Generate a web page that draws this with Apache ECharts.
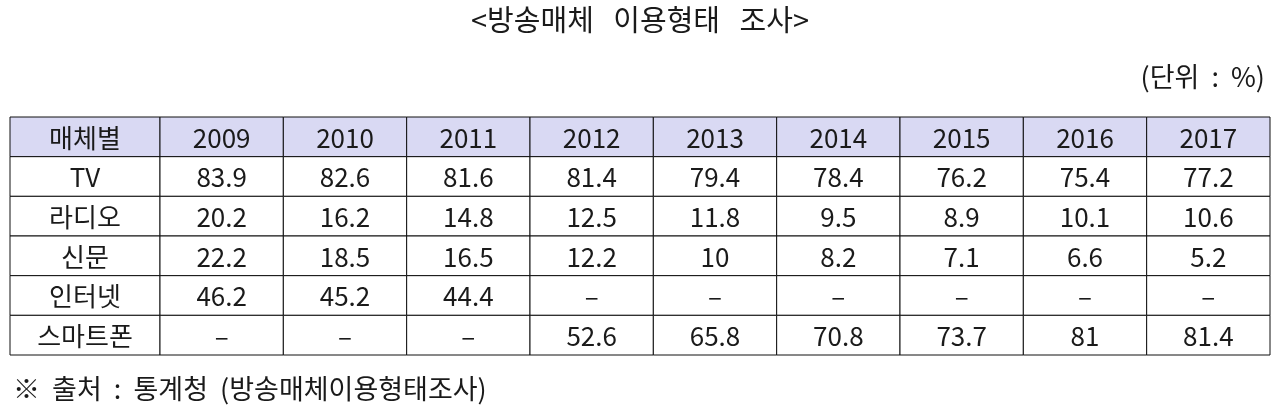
<!DOCTYPE html>
<html><head><meta charset="utf-8">
<script src="https://cdn.jsdelivr.net/npm/echarts@6/dist/echarts.min.js"></script>
<style>html,body{margin:0;background:#fff}#c{width:1280px;height:414px}</style>
</head><body><div id="c"></div>
<script>
// 표 데이터
var headerLabel = '매체별';
var years = ['2009', '2010', '2011', '2012', '2013', '2014', '2015', '2016', '2017'];
var media = ['TV', '라디오', '신문', '인터넷', '스마트폰'];
var tv = [83.9, 82.6, 81.6, 81.4, 79.4, 78.4, 76.2, 75.4, 77.2];
var radio = [20.2, 16.2, 14.8, 12.5, 11.8, 9.5, 8.9, 10.1, 10.6];
var paper = [22.2, 18.5, 16.5, 12.2, 10, 8.2, 7.1, 6.6, 5.2];
var internet = [46.2, 45.2, 44.4, null, null, null, null, null, null];
var smartphone = [null, null, null, 52.6, 65.8, 70.8, 73.7, 81, 81.4];

var rows = ['h'].concat(media);
var values = [tv, radio, paper, internet, smartphone];
var font = '"Noto Sans CJK KR", sans-serif';

var leftCells = [[0, 0, headerLabel]];
media.forEach(function (m, i) { leftCells.push([0, i + 1, m]); });
var rightCells = [];
years.forEach(function (y, j) { rightCells.push([j, 0, y]); });
values.forEach(function (arr, i) {
    arr.forEach(function (v, j) {
        rightCells.push([j, i + 1, v == null ? '–' : String(v)]);
    });
});

function makeRender(cells) {
    return function (params, api) {
        var cell = cells[params.dataIndex];
        var c = api.coord([api.value(0), api.value(1)]);
        var s = api.size([1, 1]);
        var isHead = cell[1] === 0;
        return {
            type: 'group',
            children: [{
                type: 'rect',
                shape: {x: c[0] - s[0] / 2, y: c[1] - s[1] / 2, width: s[0], height: s[1]},
                style: {fill: isHead ? '#d9d9f3' : '#fff', stroke: '#111', lineWidth: 1}
            }, {
                type: 'text',
                style: {
                    x: c[0], y: c[1] + 1, text: cell[2], fill: '#1a1a1a',
                    font: '26px ' + font, align: 'center', verticalAlign: 'middle'
                }
            }]
        };
    };
}

var chart = echarts.init(document.getElementById('c'));
chart.setOption({
    animation: false,
    title: [
        {text: '<방송매체   이용형태   조사>', left: 'center', top: 0,
            textStyle: {fontFamily: font, fontSize: 29, fontWeight: 'normal', color: '#1a1a1a'}},
        {text: '(단위  :  %)', right: 10, top: 58,
            textStyle: {fontFamily: font, fontSize: 27, fontWeight: 'normal', color: '#1a1a1a'}},
        {text: '※  출처  :  통계청  (방송매체이용형태조사)', left: 8, top: 370,
            textStyle: {fontFamily: font, fontSize: 27, fontWeight: 'normal', color: '#1a1a1a'}}
    ],
    grid: [
        {left: 10, width: 150, top: 117, height: 238},
        {left: 160, width: 1110, top: 117, height: 238}
    ],
    xAxis: [
        {gridIndex: 0, type: 'category', data: [headerLabel], show: false},
        {gridIndex: 1, type: 'category', data: years, show: false}
    ],
    yAxis: [
        {gridIndex: 0, type: 'category', data: rows, inverse: true, show: false},
        {gridIndex: 1, type: 'category', data: rows, inverse: true, show: false}
    ],
    series: [
        {type: 'custom', xAxisIndex: 0, yAxisIndex: 0, data: leftCells, renderItem: makeRender(leftCells)},
        {type: 'custom', xAxisIndex: 1, yAxisIndex: 1, data: rightCells, renderItem: makeRender(rightCells)}
    ]
});
</script></body></html>
